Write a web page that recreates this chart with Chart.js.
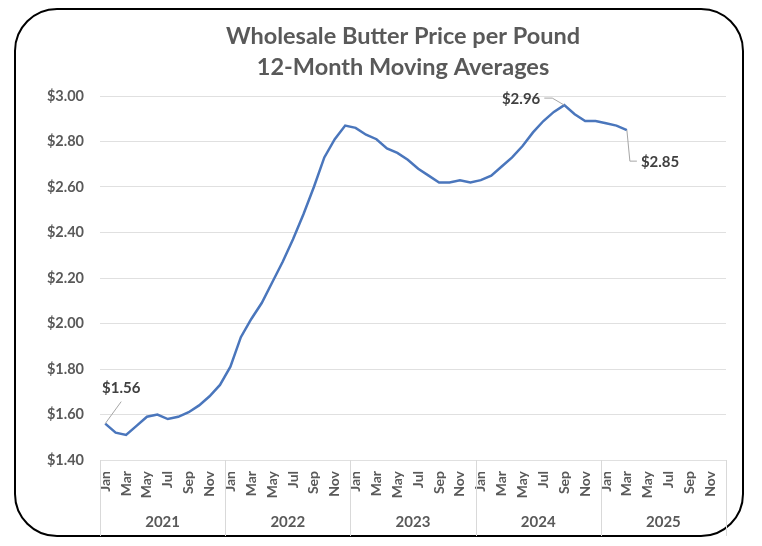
<!DOCTYPE html>
<html lang="en">
<head>
<meta charset="UTF-8">
<script src="https://cdn.jsdelivr.net/npm/chart.js"></script>
<title>Wholesale Butter Price per Pound</title>
<style>
  html, body { margin: 0; padding: 0; background: #fff; }
  #caja { width: 762px; height: 546px; position: relative; }
</style>
</head>
<body>
<div id="caja"><canvas id="grafico"></canvas></div>
<script>
const meses = ['Jan','Feb','Mar','Apr','May','Jun','Jul','Aug','Sep','Oct','Nov','Dec'];
const anios = ['2021','2022','2023','2024','2025'];
const titulo = ['Wholesale Butter Price per Pound', '12-Month Moving Averages'];
// 12-month moving average, Jan 2021 .. Mar 2025
const precios = [
  1.56, 1.52, 1.51, 1.55, 1.59, 1.60, 1.58, 1.59, 1.61, 1.64, 1.68, 1.73,
  1.81, 1.94, 2.02, 2.09, 2.18, 2.27, 2.37, 2.48, 2.60, 2.73, 2.81, 2.87,
  2.86, 2.83, 2.81, 2.77, 2.75, 2.72, 2.68, 2.65, 2.62, 2.62, 2.63, 2.62,
  2.63, 2.65, 2.69, 2.73, 2.78, 2.84, 2.89, 2.93, 2.96, 2.92, 2.89, 2.89,
  2.88, 2.87, 2.85
];
const etiquetas = [
  { idx: 0, texto: '$1.56' },
  { idx: 44, texto: '$2.96' },
  { idx: 50, texto: '$2.85' }
];

const labels = [];
anios.forEach(a => meses.forEach(m => labels.push(m + ' ' + a)));

const gris = '#595959';
const fuente = 'Lato, "Open Sans", sans-serif';

// marco redondeado, fondo y título
const marco = {
  id: 'marco',
  beforeDraw(chart) {
    const c = chart.ctx;
    c.save();
    c.fillStyle = '#fff';
    c.fillRect(0, 0, chart.width, chart.height);
    c.beginPath();
    c.roundRect(15, 9, 728, 527, 42);
    c.lineWidth = 2;
    c.strokeStyle = '#000';
    c.stroke();
    c.fillStyle = gris;
    c.font = 'bold 23.5px ' + fuente;
    c.textAlign = 'center';
    c.textBaseline = 'middle';
    c.fillText(titulo[0], 403, 36);
    c.fillText(titulo[1], 403, 67);
    c.restore();
  }
};

// años debajo de los meses + separadores
const grupos = {
  id: 'grupos',
  afterDraw(chart) {
    const x = chart.scales.x;
    const c = chart.ctx;
    const banda = (x.right - x.left) / labels.length;
    const y0 = chart.chartArea.bottom;
    c.save();
    c.strokeStyle = '#d9d9d9';
    c.lineWidth = 1;
    for (let i = 0; i <= anios.length; i++) {
      const px = Math.round(x.left + i * 12 * banda) + 0.5;
      c.beginPath();
      c.moveTo(px, y0);
      c.lineTo(px, 536);
      c.stroke();
    }
    c.fillStyle = gris;
    c.font = 'bold 15px ' + fuente;
    c.textAlign = 'center';
    c.textBaseline = 'middle';
    anios.forEach((a, i) => {
      c.fillText(a, x.left + (i * 12 + 6) * banda, 522);
    });
    c.restore();
  }
};

// etiquetas de datos con línea guía
const rotulos = {
  id: 'rotulos',
  afterDatasetsDraw(chart) {
    const c = chart.ctx;
    const pts = chart.getDatasetMeta(0).data;
    c.save();
    c.font = 'bold 15px ' + fuente;
    c.fillStyle = '#404040';
    c.strokeStyle = '#a6a6a6';
    c.lineWidth = 1;
    c.textBaseline = 'middle';
    etiquetas.forEach(e => {
      const p = pts[e.idx];
      c.beginPath();
      if (e.idx === 0) {
        c.moveTo(p.x, p.y);
        c.lineTo(p.x + 16, p.y - 22);
        c.stroke();
        c.textAlign = 'center';
        c.fillText(e.texto, p.x + 16, p.y - 35);
      } else if (e.idx === 44) {
        c.moveTo(p.x, p.y);
        c.lineTo(p.x - 12, p.y - 7);
        c.lineTo(p.x - 20, p.y - 7);
        c.stroke();
        c.textAlign = 'right';
        c.fillText(e.texto, p.x - 24, p.y - 6);
      } else {
        c.moveTo(p.x, p.y);
        c.lineTo(p.x + 3, p.y + 31);
        c.lineTo(p.x + 10, p.y + 31);
        c.stroke();
        c.textAlign = 'left';
        c.fillText(e.texto, p.x + 14, p.y + 32);
      }
    });
    c.restore();
  }
};

new Chart(document.getElementById('grafico'), {
  type: 'line',
  data: {
    labels: labels,
    datasets: [{
      data: precios,
      borderColor: '#4a76bc',
      borderWidth: 2.5,
      pointRadius: 0,
      tension: 0,
      fill: false
    }]
  },
  options: {
    responsive: true,
    maintainAspectRatio: false,
    animation: false,
    layout: { padding: { left: 0, right: 36, top: 96, bottom: 0 } },
    plugins: {
      legend: { display: false },
      tooltip: { enabled: false },
      title: { display: false }
    },
    scales: {
      x: {
        offset: true,
        grid: { display: false },
        border: { display: false },
        ticks: {
          autoSkip: false,
          minRotation: 90,
          maxRotation: 90,
          padding: 3,
          color: gris,
          font: { family: fuente, size: 14, weight: 'bold' },
          callback: (v, i) => i % 2 === 0 ? meses[i % 12] : ''
        },
        afterFit: s => { s.height = 86; }
      },
      y: {
        min: 1.4,
        max: 3.0,
        border: { display: false },
        grid: { color: '#e0e0e0', drawTicks: false },
        ticks: {
          stepSize: 0.2,
          padding: 16,
          color: gris,
          font: { family: fuente, size: 14.5, weight: 'bold' },
          callback: v => '$' + v.toFixed(2)
        },
        afterFit: s => { s.width = 100; }
      }
    }
  },
  plugins: [marco, grupos, rotulos]
});
</script>
</body>
</html>
